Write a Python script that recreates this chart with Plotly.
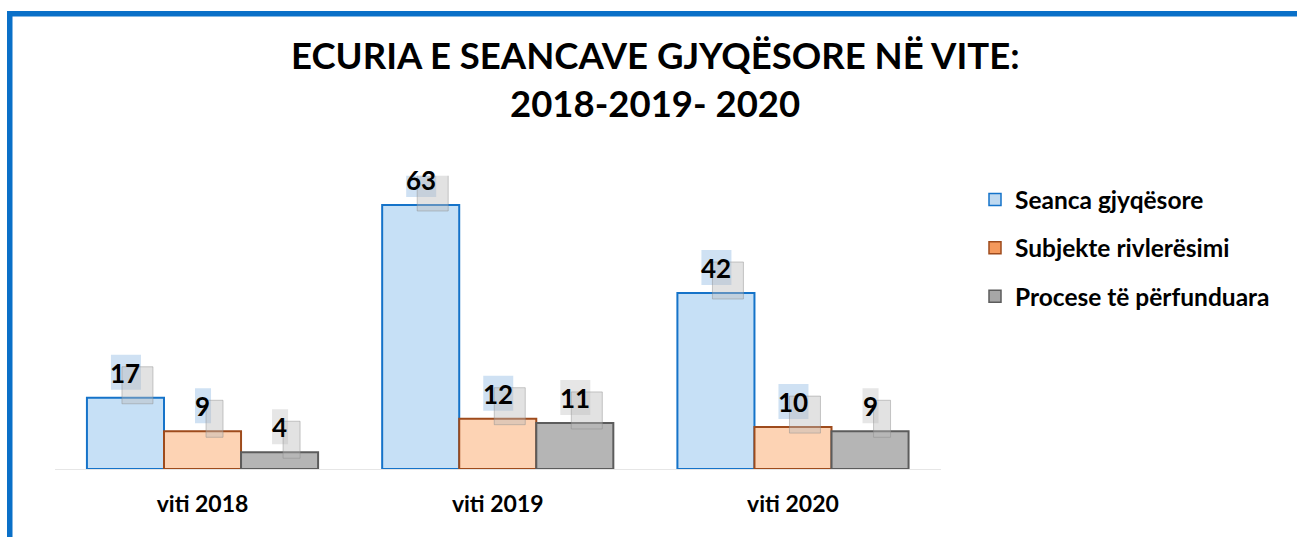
import plotly.graph_objects as go

# ---- data ----
categories = ["viti 2018", "viti 2019", "viti 2020"]
series_names = ["Seanca gjyqësore", "Subjekte rivlerësimi", "Procese të përfunduara"]
seanca = [17, 63, 42]
subjekte = [9, 12, 10]
procese = [4, 11, 9]
title_line1 = "ECURIA E SEANCAVE GJYQËSORE NË VITE:"
title_line2 = "2018-2019- 2020"

# ---- styles ----
W, H = 1297, 537
FONT = "Lato"
bar_fill = ["#C6E0F6", "#FDD3B4", "#B5B5B5"]
bar_line = ["#1573C9", "#9E4B1C", "#5C5C5C"]
legend_fill = ["#BFD9F0", "#F4995C", "#A6A6A6"]
label_bg = ["rgba(175,205,235,0.6)", "rgba(175,205,235,0.6)", "rgba(205,205,205,0.5)"]
shadow_bg = "rgba(185,185,185,0.42)"
shadow_line = "rgba(140,140,140,0.45)"

values = [seanca, subjekte, procese]
xs = list(range(len(categories)))
bw = 0.261
offsets = [(i - 1) * bw for i in range(3)]

fig = go.Figure()
for i, (name, vals) in enumerate(zip(series_names, values)):
    fig.add_trace(go.Bar(
        x=xs, y=vals, name=name, width=bw, offset=offsets[i] - bw / 2,
        marker=dict(color=bar_fill[i], line=dict(color=bar_line[i], width=2)),
        showlegend=False, hoverinfo="skip",
    ))
    # legend-only dummy trace with the legend swatch colour
    fig.add_trace(go.Bar(
        x=[None], y=[None], name="<b>%s</b>" % name, legendgroup=name,
        marker=dict(color=legend_fill[i], line=dict(color=bar_line[i], width=1.5)),
        showlegend=True,
    ))

LBL = 26
annotations = []
shapes = []
for i, vals in enumerate(values):
    for xi, v in zip(xs, vals):
        cx = xi + offsets[i]
        w = 14 * len(str(v)) + 1
        # highlight box behind the label text (pixel-sized, anchored at bar top)
        shapes.append(dict(type="rect", xref="x", yref="y",
                           xsizemode="pixel", ysizemode="pixel",
                           xanchor=cx, yanchor=v,
                           x0=-w / 2, x1=w / 2 + 1, y0=8, y1=43,
                           fillcolor=label_bg[i], line=dict(width=0), layer="above"))
        # shadow box
        shapes.append(dict(type="rect", xref="x", yref="y",
                           xsizemode="pixel", ysizemode="pixel",
                           xanchor=cx, yanchor=v,
                           x0=-w / 2 + 11, x1=w / 2 + 13, y0=-6, y1=31,
                           fillcolor=shadow_bg, line=dict(color=shadow_line, width=1),
                           layer="above"))
        annotations.append(dict(x=cx, y=v, xref="x", yref="y", showarrow=False,
                                yanchor="bottom", xanchor="center", borderpad=0,
                                text="<b>%d</b>" % v, yshift=8,
                                font=dict(family=FONT, size=LBL, color="black")))

annotations.append(dict(text="<b>%s</b>" % title_line1, x=655 / W, y=1 - 55 / H,
                        xref="paper", yref="paper", showarrow=False,
                        xanchor="center", yanchor="middle",
                        font=dict(family=FONT, size=36.5, color="black")))
annotations.append(dict(text="<b>%s</b>" % title_line2, x=655 / W, y=1 - 103 / H,
                        xref="paper", yref="paper", showarrow=False,
                        xanchor="center", yanchor="middle",
                        font=dict(family=FONT, size=36.5, color="black")))

border = "#0A70C8"
shapes += [
    dict(type="line", xref="paper", yref="paper", x0=7 / W, x1=1.01,
         y0=1 - 13.75 / H, y1=1 - 13.75 / H, line=dict(color=border, width=5.5)),
    dict(type="line", xref="paper", yref="paper", x0=9.75 / W, x1=9.75 / W,
         y0=1 - 11 / H, y1=-0.01, line=dict(color=border, width=5.5)),
]

base_px = 469
scale = (469 - 205) / 63.0
ymax = 70
top_px = base_px - ymax * scale

fig.update_layout(
    width=W, height=H, margin=dict(l=0, r=0, t=0, b=0),
    paper_bgcolor="white", plot_bgcolor="white",
    barmode="overlay",
    xaxis=dict(domain=[54.9 / W, 940.6 / W], range=[-0.5, 2.5],
               tickvals=xs, ticktext=["<b>%s</b>" % c for c in categories],
               tickfont=dict(family=FONT, size=23, color="black"),
               showgrid=False, zeroline=False, showline=True, linecolor="#E6E6E6",
               linewidth=1, ticks="", ticklabelstandoff=14),
    yaxis=dict(domain=[1 - base_px / H, 1 - top_px / H], range=[0, ymax],
               visible=False, showgrid=False, zeroline=False),
    legend=dict(x=975 / W, y=1 - 177 / H, xanchor="left", yanchor="top",
                font=dict(family=FONT, size=24.5, color="black"),
                tracegroupgap=13.5, bgcolor="rgba(0,0,0,0)"),
    annotations=annotations, shapes=shapes,
)

fig.write_html("out.html", config={"displayModeBar": False},
               post_script="document.body.style.margin='0';document.body.style.padding='0';")
